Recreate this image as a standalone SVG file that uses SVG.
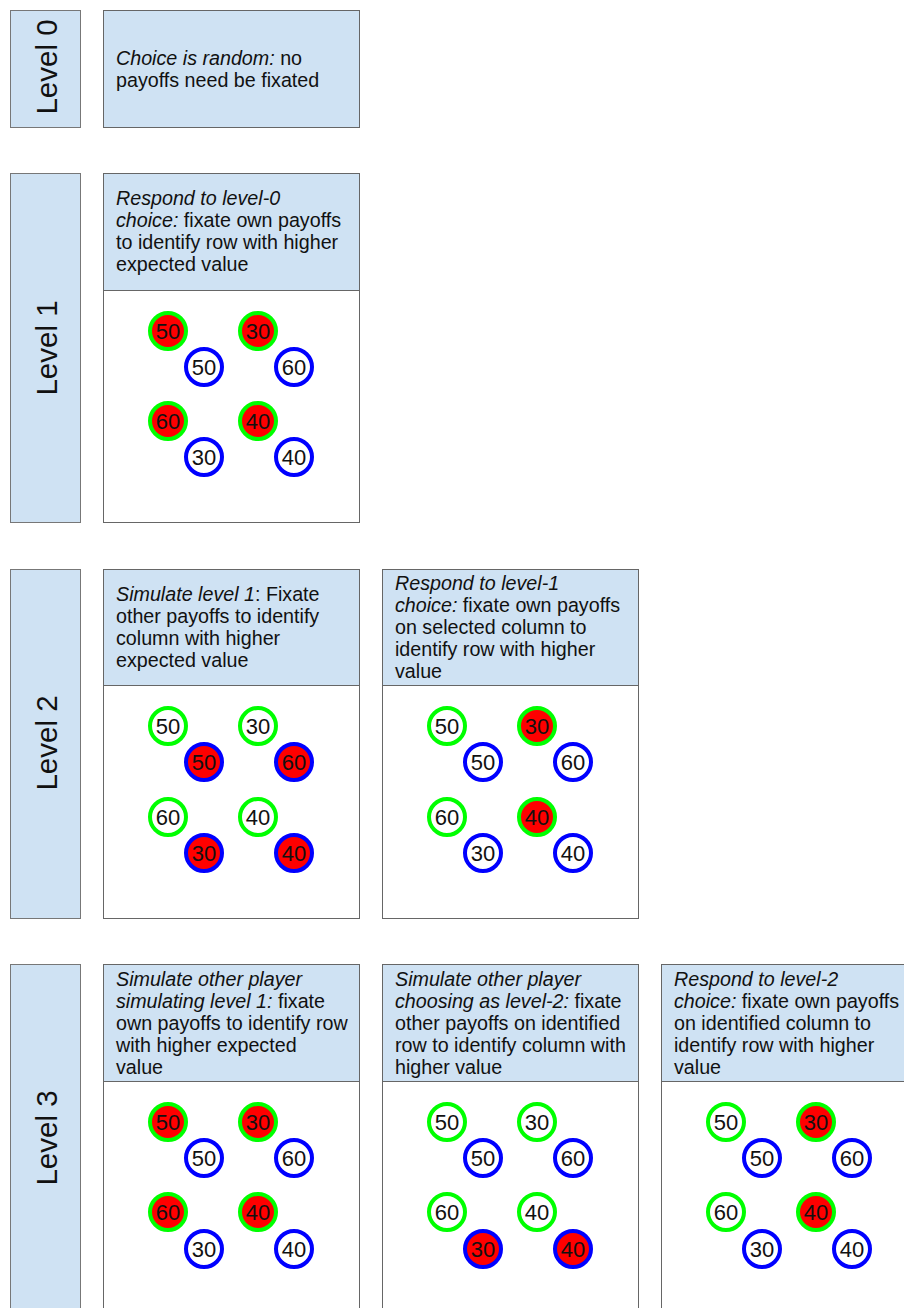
<svg xmlns="http://www.w3.org/2000/svg" width="904" height="1308" viewBox="0 0 904 1308">
<style>
.lab{fill:#cfe2f3;stroke:#777;stroke-width:1}
.hdr{fill:#cfe2f3;stroke:#666;stroke-width:1}
.body{fill:#fff;stroke:#666;stroke-width:1}
.t{font-family:"Liberation Sans",Arial,sans-serif;font-size:19.7px;fill:#111}
.i{font-style:italic}
.lv{font-family:"Liberation Sans",Arial,sans-serif;font-size:29.5px;fill:#111;text-anchor:middle}
.n{font-family:"Liberation Sans",Arial,sans-serif;font-size:22px;fill:#111;text-anchor:middle}
.g{stroke:#00ff00;stroke-width:4;fill:#fff}
.b{stroke:#0000ff;stroke-width:4;fill:#fff}
.r{fill:#ff0000}
</style>
<g id="connectors"/>
<g id="level0">
<rect class="lab" x="10.5" y="10.5" width="70" height="117"/>
<text class="lv" transform="translate(57,67) rotate(-90)">Level 0</text>
<rect class="hdr" x="103.5" y="10.5" width="256" height="117"/>
<text class="t" x="116" y="65"><tspan class="i">Choice is random:</tspan> no</text>
<text class="t" x="116" y="87">payoffs need be fixated</text>
</g>
<g id="level1">
<rect class="lab" x="10.5" y="173.5" width="70" height="349"/>
<text class="lv" transform="translate(57,348) rotate(-90)">Level 1</text>
<rect class="body" x="103.5" y="290.5" width="256" height="232"/>
<rect class="hdr" x="103.5" y="173.5" width="256" height="117"/>
<text class="t" x="116" y="205"><tspan class="i">Respond to level-0</tspan></text>
<text class="t" x="116" y="227"><tspan class="i">choice:</tspan> fixate own payoffs</text>
<text class="t" x="116" y="249">to identify row with higher</text>
<text class="t" x="116" y="271">expected value</text>
<g id="l1m">
<circle class="g r" cx="168" cy="331" r="18"/><text class="n" x="168" y="339">50</text>
<circle class="g r" cx="258" cy="331" r="18"/><text class="n" x="258" y="339">30</text>
<circle class="b" cx="204" cy="367" r="18"/><text class="n" x="204" y="375">50</text>
<circle class="b" cx="294" cy="367" r="18"/><text class="n" x="294" y="375">60</text>
<circle class="g r" cx="168" cy="421" r="18"/><text class="n" x="168" y="429">60</text>
<circle class="g r" cx="258" cy="421" r="18"/><text class="n" x="258" y="429">40</text>
<circle class="b" cx="204" cy="457" r="18"/><text class="n" x="204" y="465">30</text>
<circle class="b" cx="294" cy="457" r="18"/><text class="n" x="294" y="465">40</text>
</g>
</g>
<g id="level2">
<rect class="lab" x="10.5" y="569.5" width="70" height="349"/>
<text class="lv" transform="translate(57,743) rotate(-90)">Level 2</text>
<rect class="body" x="103.5" y="685.5" width="256" height="233"/>
<rect class="hdr" x="103.5" y="569.5" width="256" height="116"/>
<text class="t" x="116" y="601"><tspan class="i">Simulate level 1</tspan>: Fixate</text>
<text class="t" x="116" y="623">other payoffs to identify</text>
<text class="t" x="116" y="645">column with higher</text>
<text class="t" x="116" y="667">expected value</text>
<g id="l2m1">
<circle class="g" cx="168" cy="726" r="18"/><text class="n" x="168" y="734">50</text>
<circle class="g" cx="258" cy="726" r="18"/><text class="n" x="258" y="734">30</text>
<circle class="b r" cx="204" cy="762" r="18"/><text class="n" x="204" y="770">50</text>
<circle class="b r" cx="294" cy="762" r="18"/><text class="n" x="294" y="770">60</text>
<circle class="g" cx="168" cy="817" r="18"/><text class="n" x="168" y="825">60</text>
<circle class="g" cx="258" cy="817" r="18"/><text class="n" x="258" y="825">40</text>
<circle class="b r" cx="204" cy="853" r="18"/><text class="n" x="204" y="861">30</text>
<circle class="b r" cx="294" cy="853" r="18"/><text class="n" x="294" y="861">40</text>
</g>
<rect class="body" x="382.5" y="685.5" width="256" height="233"/>
<rect class="hdr" x="382.5" y="569.5" width="256" height="116"/>
<text class="t" x="395" y="590"><tspan class="i">Respond to level-1</tspan></text>
<text class="t" x="395" y="612"><tspan class="i">choice:</tspan> fixate own payoffs</text>
<text class="t" x="395" y="634">on selected column to</text>
<text class="t" x="395" y="656">identify row with higher</text>
<text class="t" x="395" y="678">value</text>
<g id="l2m2">
<circle class="g" cx="447" cy="726" r="18"/><text class="n" x="447" y="734">50</text>
<circle class="g r" cx="537" cy="726" r="18"/><text class="n" x="537" y="734">30</text>
<circle class="b" cx="483" cy="762" r="18"/><text class="n" x="483" y="770">50</text>
<circle class="b" cx="573" cy="762" r="18"/><text class="n" x="573" y="770">60</text>
<circle class="g" cx="447" cy="817" r="18"/><text class="n" x="447" y="825">60</text>
<circle class="g r" cx="537" cy="817" r="18"/><text class="n" x="537" y="825">40</text>
<circle class="b" cx="483" cy="853" r="18"/><text class="n" x="483" y="861">30</text>
<circle class="b" cx="573" cy="853" r="18"/><text class="n" x="573" y="861">40</text>
</g>
</g>
<g id="level3">
<rect class="lab" x="10.5" y="964.5" width="70" height="360"/>
<text class="lv" transform="translate(57,1138) rotate(-90)">Level 3</text>
<rect class="body" x="103.5" y="1081.5" width="256" height="240"/>
<rect class="hdr" x="103.5" y="964.5" width="256" height="117"/>
<text class="t" x="116" y="986"><tspan class="i">Simulate other player</tspan></text>
<text class="t" x="116" y="1008"><tspan class="i">simulating level 1:</tspan> fixate</text>
<text class="t" x="116" y="1030">own payoffs to identify row</text>
<text class="t" x="116" y="1052">with higher expected</text>
<text class="t" x="116" y="1074">value</text>
<g id="l3m1">
<circle class="g r" cx="168" cy="1122" r="18"/><text class="n" x="168" y="1130">50</text>
<circle class="g r" cx="258" cy="1122" r="18"/><text class="n" x="258" y="1130">30</text>
<circle class="b" cx="204" cy="1158" r="18"/><text class="n" x="204" y="1166">50</text>
<circle class="b" cx="294" cy="1158" r="18"/><text class="n" x="294" y="1166">60</text>
<circle class="g r" cx="168" cy="1212" r="18"/><text class="n" x="168" y="1220">60</text>
<circle class="g r" cx="258" cy="1212" r="18"/><text class="n" x="258" y="1220">40</text>
<circle class="b" cx="204" cy="1249" r="18"/><text class="n" x="204" y="1257">30</text>
<circle class="b" cx="294" cy="1249" r="18"/><text class="n" x="294" y="1257">40</text>
</g>
<rect class="body" x="382.5" y="1081.5" width="256" height="240"/>
<rect class="hdr" x="382.5" y="964.5" width="256" height="117"/>
<text class="t" x="395" y="986"><tspan class="i">Simulate other player</tspan></text>
<text class="t" x="395" y="1008"><tspan class="i">choosing as level-2:</tspan> fixate</text>
<text class="t" x="395" y="1030">other payoffs on identified</text>
<text class="t" x="395" y="1052">row to identify column with</text>
<text class="t" x="395" y="1074">higher value</text>
<g id="l3m2">
<circle class="g" cx="447" cy="1122" r="18"/><text class="n" x="447" y="1130">50</text>
<circle class="g" cx="537" cy="1122" r="18"/><text class="n" x="537" y="1130">30</text>
<circle class="b" cx="483" cy="1158" r="18"/><text class="n" x="483" y="1166">50</text>
<circle class="b" cx="573" cy="1158" r="18"/><text class="n" x="573" y="1166">60</text>
<circle class="g" cx="447" cy="1212" r="18"/><text class="n" x="447" y="1220">60</text>
<circle class="g" cx="537" cy="1212" r="18"/><text class="n" x="537" y="1220">40</text>
<circle class="b r" cx="483" cy="1249" r="18"/><text class="n" x="483" y="1257">30</text>
<circle class="b r" cx="573" cy="1249" r="18"/><text class="n" x="573" y="1257">40</text>
</g>
<rect class="body" x="661.5" y="1081.5" width="256" height="240"/>
<rect class="hdr" x="661.5" y="964.5" width="256" height="117"/>
<text class="t" x="674" y="986"><tspan class="i">Respond to level-2</tspan></text>
<text class="t" x="674" y="1008"><tspan class="i">choice:</tspan> fixate own payoffs</text>
<text class="t" x="674" y="1030">on identified column to</text>
<text class="t" x="674" y="1052">identify row with higher</text>
<text class="t" x="674" y="1074">value</text>
<g id="l3m3">
<circle class="g" cx="726" cy="1122" r="18"/><text class="n" x="726" y="1130">50</text>
<circle class="g r" cx="816" cy="1122" r="18"/><text class="n" x="816" y="1130">30</text>
<circle class="b" cx="762" cy="1158" r="18"/><text class="n" x="762" y="1166">50</text>
<circle class="b" cx="852" cy="1158" r="18"/><text class="n" x="852" y="1166">60</text>
<circle class="g" cx="726" cy="1212" r="18"/><text class="n" x="726" y="1220">60</text>
<circle class="g r" cx="816" cy="1212" r="18"/><text class="n" x="816" y="1220">40</text>
<circle class="b" cx="762" cy="1249" r="18"/><text class="n" x="762" y="1257">30</text>
<circle class="b" cx="852" cy="1249" r="18"/><text class="n" x="852" y="1257">40</text>
</g>
</g>
</svg>
